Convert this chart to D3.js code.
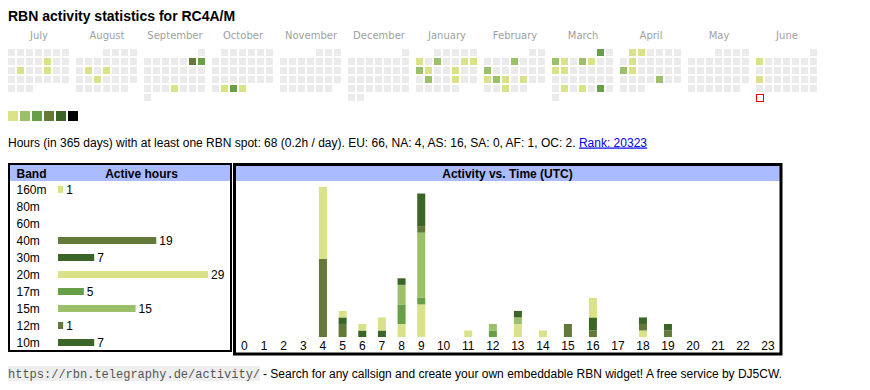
<!DOCTYPE html>
<html lang="en">
<head>
    <meta charset="UTF-8">
    <title>RBN activity statistics</title>
    <script src="https://d3js.org/d3.v7.min.js"></script>
</head>
<style>
    body {
        margin: 0;
        padding: 0;
        background: #fff;
    }
    svg {
        display: block;
    }
</style>
<body>
<div class="chart"></div>
<script>
  /** DATA */
  var monthNames = ['July', 'August', 'September', 'October', 'November', 'December',
    'January', 'February', 'March', 'April', 'May', 'June'];
  var firstDay = '2024-07-01';
  var today = '2025-06-30';

  // days with at least one spot, and hours active that day
  var activeDays = ['2024-07-12', '2024-07-16', '2024-07-19', '2024-08-13', '2024-08-15', '2024-08-21',
    '2024-09-07', '2024-09-08', '2024-09-26', '2024-10-29', '2024-10-30', '2024-10-31',
    '2025-01-06', '2025-01-08', '2025-01-11', '2025-01-12', '2025-01-13', '2025-01-14', '2025-01-17',
    '2025-01-21', '2025-01-24', '2025-02-06', '2025-02-10', '2025-02-17', '2025-02-18', '2025-02-19',
    '2025-02-21', '2025-02-26', '2025-03-01', '2025-03-03', '2025-03-04', '2025-03-06', '2025-03-07',
    '2025-03-10', '2025-03-11', '2025-03-25', '2025-03-27', '2025-03-29', '2025-04-01', '2025-04-02',
    '2025-04-08', '2025-04-14', '2025-04-15', '2025-04-25', '2025-06-02', '2025-06-16'];
  var activeHours = [1, 1, 1, 1, 1, 1,
    4, 3, 1, 1, 3, 1,
    1, 2, 1, 1, 2, 1, 1,
    2, 1, 2, 2, 1, 2, 1,
    1, 1, 3, 2, 1, 2, 1,
    1, 1, 1, 1, 3, 1, 1,
    1, 2, 1, 2, 1, 1];

  var levelColors = ['#dae289', '#9cc069', '#669f45', '#637939', '#3b6427', '#000000'];

  var bands = ['160m', '80m', '60m', '40m', '30m', '20m', '17m', '15m', '12m', '10m'];
  var bandHours = [1, 0, 0, 19, 7, 29, 5, 15, 1, 7];
  var bandColors = ['#dae289', '#9cc069', '#669f45', '#637939', '#3b6427',
    '#dae289', '#669f45', '#9cc069', '#637939', '#3b6427'];

  var hourTicks = ['0', '1', '2', '3', '4', '5', '6', '7', '8', '9', '10', '11',
    '12', '13', '14', '15', '16', '17', '18', '19', '20', '21', '22', '23'];
  // band-hours per UTC hour
  var act160 = [0, 0, 0, 0, 0, 0, 0, 0, 0, 0, 0, 0, 0, 0, 0, 0, 0, 0, 1, 0, 0, 0, 0, 0];
  var act80 = [0, 0, 0, 0, 0, 0, 0, 0, 0, 0, 0, 0, 0, 0, 0, 0, 0, 0, 0, 0, 0, 0, 0, 0];
  var act60 = [0, 0, 0, 0, 0, 0, 0, 0, 0, 0, 0, 0, 0, 0, 0, 0, 0, 0, 0, 0, 0, 0, 0, 0];
  var act40 = [0, 0, 0, 0, 12, 2, 0, 0, 0, 0, 0, 0, 0, 0, 0, 2, 1, 0, 1, 1, 0, 0, 0, 0];
  var act30 = [0, 0, 0, 0, 0, 1, 1, 1, 0, 0, 0, 0, 0, 0, 0, 0, 2, 0, 1, 1, 0, 0, 0, 0];
  var act20 = [0, 0, 0, 0, 11, 1, 1, 2, 2, 5, 0, 1, 0, 2, 1, 0, 3, 0, 0, 0, 0, 0, 0, 0];
  var act17 = [0, 0, 0, 0, 0, 0, 0, 0, 3, 1, 0, 0, 1, 0, 0, 0, 0, 0, 0, 0, 0, 0, 0, 0];
  var act15 = [0, 0, 0, 0, 0, 0, 0, 0, 3, 10, 0, 0, 1, 1, 0, 0, 0, 0, 0, 0, 0, 0, 0, 0];
  var act12 = [0, 0, 0, 0, 0, 0, 0, 0, 0, 1, 0, 0, 0, 0, 0, 0, 0, 0, 0, 0, 0, 0, 0, 0];
  var act10 = [0, 0, 0, 0, 0, 0, 0, 0, 1, 5, 0, 0, 0, 1, 0, 0, 0, 0, 0, 0, 0, 0, 0, 0];
  var bandActivity = [act160, act80, act60, act40, act30, act20, act17, act15, act12, act10];

  var SANS = 'Arial, "Liberation Sans", sans-serif';

  var svg = d3.select('.chart').append('svg')
    .attr('width', 870)
    .attr('height', 390);

  svg.append('text')
    .attr('x', 8).attr('y', 21)
    .style('font', 'bold 14px ' + SANS)
    .text('RBN activity statistics for RC4A/M');

  buildCalendar();
  buildInfo();
  buildBandTable();
  buildHourChart();
  buildFooter();

  /** FUNCTIONS **/
  function buildCalendar() {
    var parse = d3.utcParse('%Y-%m-%d');
    var start = parse(firstDay);
    var end = parse(today);
    var hoursByDay = new Map(activeDays.map(function (d, i) { return [d, activeHours[i]]; }));
    var fmt = d3.utcFormat('%Y-%m-%d');

    var monthX = d3.scaleBand().domain(d3.range(12)).range([8, 8 + 68 * 12]);
    var colX = d3.scaleLinear().domain([0, 1]).range([0, 9]);
    var rowY = d3.scaleLinear().domain([0, 1]).range([49, 58]);
    var color = d3.scaleThreshold().domain([1, 2, 3, 4, 5, 6])
      .range(['#ebebeb'].concat(levelColors));

    svg.append('g').selectAll('text')
      .data(monthNames)
      .enter().append('text')
      .attr('x', function (_, i) { return monthX(i) + 31; })
      .attr('y', 38.5)
      .attr('text-anchor', 'middle')
      .style('font', '10px Verdana, "DejaVu Sans", sans-serif')
      .attr('fill', '#a0a0a0')
      .text(function (d) { return d; });

    var days = d3.utcDays(start, d3.utcDay.offset(end, 1)).map(function (d) {
      var m = (d.getUTCFullYear() - 2024) * 12 + d.getUTCMonth() - 6;
      var firstCol = (d3.utcMonth.floor(d).getUTCDay() + 6) % 7;
      return {
        key: fmt(d),
        month: m,
        col: (d.getUTCDay() + 6) % 7,
        row: Math.floor((d.getUTCDate() - 1 + firstCol) / 7),
        hours: hoursByDay.get(fmt(d)) || 0
      };
    });

    svg.append('g').selectAll('rect')
      .data(days)
      .enter().append('rect')
      .attr('x', function (d) { return monthX(d.month) + colX(d.col); })
      .attr('y', function (d) { return rowY(d.row); })
      .attr('width', 7)
      .attr('height', 7)
      .attr('fill', function (d) { return d.key === today ? '#fff' : color(d.hours); })
      .attr('stroke', function (d) { return d.key === today ? '#e00' : 'none'; })
      .attr('transform', function (d) { return d.key === today ? 'translate(0.5,0.5)' : null; });

    // colour legend
    svg.append('g').selectAll('rect')
      .data(levelColors)
      .enter().append('rect')
      .attr('x', function (_, i) { return 8 + 12 * i; })
      .attr('y', 111)
      .attr('width', 10)
      .attr('height', 10)
      .attr('fill', function (d) { return d; });
  }

  function buildInfo() {
    var t = svg.append('text')
      .attr('x', 8).attr('y', 146.5)
      .style('font', '12px ' + SANS);
    t.append('tspan')
      .text('Hours (in 365 days) with at least one RBN spot: 68 (0.2h / day). EU: 66, NA: 4, AS: 16, SA: 0, AF: 1, OC: 2. ');
    t.append('tspan')
      .attr('fill', '#0000ee')
      .style('text-decoration', 'underline')
      .text('Rank: 20323');
  }

  function buildBandTable() {
    var box = svg.append('g');
    box.append('rect')
      .attr('x', 10).attr('y', 165).attr('width', 220).attr('height', 16)
      .attr('fill', '#aabbff');
    box.append('rect')
      .attr('x', 9).attr('y', 164).attr('width', 222).attr('height', 187)
      .attr('fill', 'none').attr('stroke', '#000').attr('stroke-width', 2);
    box.append('text')
      .attr('x', 16.5).attr('y', 177.5)
      .style('font', 'bold 12px ' + SANS)
      .text('Band');
    box.append('text')
      .attr('x', 141.5).attr('y', 177.5)
      .attr('text-anchor', 'middle')
      .style('font', 'bold 12px ' + SANS)
      .text('Active hours');

    var rowY = d3.scaleBand().domain(bands).range([181, 181 + 17 * bands.length]);
    var barW = d3.scaleLinear().domain([0, d3.max(bandHours)]).range([0, 150]);

    var rows = box.selectAll('g.row')
      .data(bands)
      .enter().append('g')
      .classed('row', true)
      .attr('transform', function (d) { return 'translate(0,' + rowY(d) + ')'; });

    rows.append('text')
      .attr('x', 16.5).attr('y', 12.5)
      .style('font', '12px ' + SANS)
      .text(function (d) { return d; });

    rows.filter(function (_, i) { return bandHours[i] > 0; })
      .each(function (d) {
        var i = bands.indexOf(d);
        var g = d3.select(this);
        g.append('rect')
          .attr('x', 58).attr('y', 5)
          .attr('width', barW(bandHours[i]))
          .attr('height', 7)
          .attr('fill', bandColors[i]);
        g.append('text')
          .attr('x', 58 + barW(bandHours[i]) + 3).attr('y', 12.5)
          .style('font', '12px ' + SANS)
          .text(bandHours[i]);
      });
  }

  function buildHourChart() {
    var box = svg.append('g');
    box.append('rect')
      .attr('x', 236).attr('y', 166).attr('width', 544).attr('height', 15)
      .attr('fill', '#aabbff');
    box.append('rect')
      .attr('x', 234.5).attr('y', 164.5).attr('width', 546.5).attr('height', 189.5)
      .attr('fill', 'none').attr('stroke', '#000').attr('stroke-width', 3);
    box.append('text')
      .attr('x', 507.5).attr('y', 177.5)
      .attr('text-anchor', 'middle')
      .style('font', 'bold 12px ' + SANS)
      .text('Activity vs. Time (UTC)');

    /** hour labels sit in auto-width table cells: width follows the label width */
    var labels = box.append('g').selectAll('text')
      .data(hourTicks)
      .enter().append('text')
      .attr('y', 350)
      .attr('text-anchor', 'middle')
      .style('font', '12px ' + SANS)
      .text(function (d) { return d; });
    var weights = [];
    labels.each(function () { weights.push(this.getComputedTextLength() + 17.8); });
    var k = 546 / d3.sum(weights);
    var centers = [];
    var acc = 234.5;
    weights.forEach(function (w) {
      centers.push(acc + w * k / 2);
      acc += w * k;
    });
    var x = d3.scaleOrdinal().domain(hourTicks).range(centers);
    labels.attr('x', function (d) { return x(d); });

    var table = hourTicks.map(function (h, i) {
      var row = { hour: h };
      bands.forEach(function (b, j) { row[b] = bandActivity[j][i]; });
      return row;
    });
    var series = d3.stack().keys(bands)(table);
    var y = d3.scaleLinear()
      .domain([0, d3.max(series[series.length - 1], function (d) { return d[1]; })])
      .range([337, 187]);

    box.append('g').selectAll('g')
      .data(series)
      .enter().append('g')
      .attr('fill', function (s) { return bandColors[bands.indexOf(s.key)]; })
      .selectAll('rect')
      .data(function (s) { return s.filter(function (d) { return d[1] > d[0]; }); })
      .enter().append('rect')
      .attr('x', function (d) { return x(d.data.hour) - 4; })
      .attr('y', function (d) { return y(d[1]); })
      .attr('width', 8)
      .attr('height', function (d) { return y(d[0]) - y(d[1]); });
  }

  function buildFooter() {
    svg.append('rect')
      .attr('x', 8).attr('y', 366).attr('width', 252).attr('height', 15)
      .attr('fill', '#eeeeee');
    svg.append('text')
      .attr('x', 8).attr('y', 378)
      .style('font', '12px "Liberation Mono", "DejaVu Sans Mono", monospace')
      .attr('fill', '#555')
      .text('https://rbn.telegraphy.de/activity/');
    svg.append('text')
      .attr('x', 263).attr('y', 378)
      .style('font', '12px ' + SANS)
      .text('- Search for any callsign and create your own embeddable RBN widget! A free service by DJ5CW.');
  }
</script>
</body>
</html>
